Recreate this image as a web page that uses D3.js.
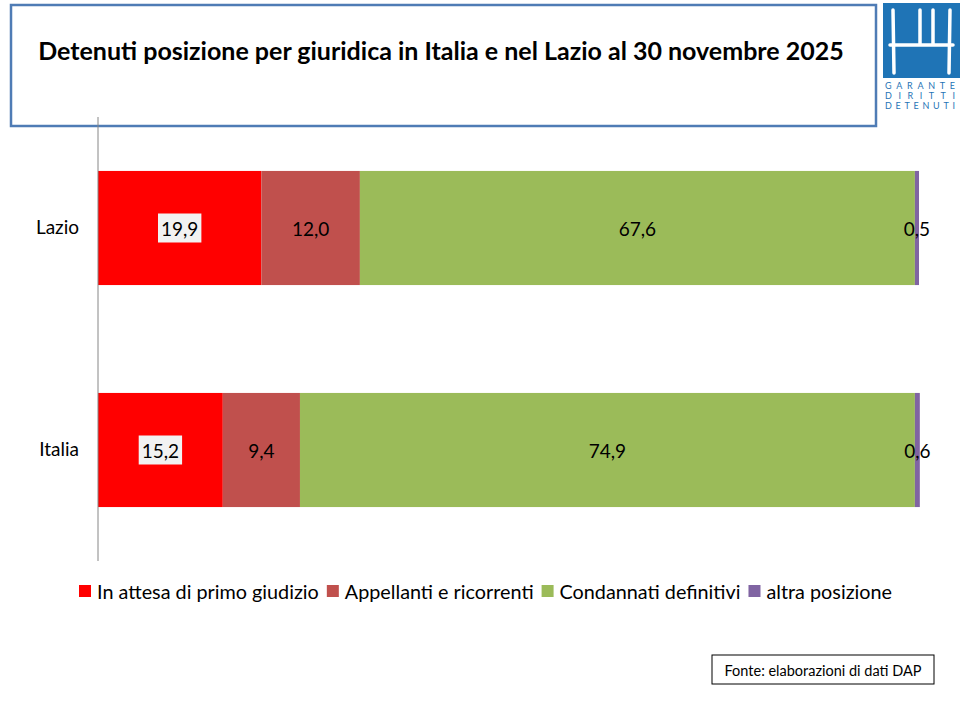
<!DOCTYPE html>
<html>
<head>
<meta charset="utf-8">
<script src="https://cdn.jsdelivr.net/npm/d3@7"></script>
<style>
  body { margin: 0; background: #fff; }
  text { font-family: Lato, "Open Sans", sans-serif; }
</style>
</head>
<body>
<div id="chart"></div>
<script>
// Dati
const regioni = ["Lazio", "Italia"];
const serie = ["In attesa di primo giudizio", "Appellanti e ricorrenti", "Condannati definitivi", "altra posizione"];
const lazio = [19.9, 12.0, 67.6, 0.5];
const italia = [15.2, 9.4, 74.9, 0.6];
const colori = ["#ff0000", "#c0504d", "#9bbb59", "#8064a2"];

const valori = { Lazio: lazio, Italia: italia };

const svg = d3.select("#chart").append("svg")
    .attr("width", 960)
    .attr("height", 720);

// Riquadro del titolo
svg.append("rect")
    .attr("x", 11).attr("y", 5)
    .attr("width", 865).attr("height", 121)
    .attr("fill", "none")
    .attr("stroke", "#4f7cb5")
    .attr("stroke-width", 2.5);

svg.append("text")
    .attr("x", 441).attr("y", 50)
    .attr("text-anchor", "middle")
    .attr("dominant-baseline", "central")
    .attr("font-size", 25)
    .attr("font-weight", "bold")
    .attr("fill", "#000")
    .text("Detenuti posizione per giuridica in Italia e nel Lazio al 30 novembre 2025");

// Logo (approssimato)
const logo = svg.append("g").attr("transform", "translate(883,3)");
logo.append("rect").attr("width", 77).attr("height", 75).attr("fill", "#1f74b6");
logo.append("path")
    .attr("d", "M10,7 L11,70 M37,7 L37,42 M50,7 L50,42 M67,7 L66,70 M7,42 L70,42")
    .attr("stroke", "#fff").attr("stroke-width", 3.5).attr("fill", "none")
    .attr("stroke-linecap", "round");
["GARANTE", "DIRITTI", "DETENUTI"].forEach((t, i) => {
    logo.append("text")
        .attr("x", 2).attr("y", 86 + i * 10)
        .attr("font-size", 9)
        .attr("fill", "#1f74b6")
        .attr("textLength", 70)
        .attr("lengthAdjust", "spacing")
        .text(t);
});

// Scale
const x = d3.scaleLinear().domain([0, 100]).range([98, 919]);
const y = d3.scaleBand().domain(regioni).range([117, 561])
    .paddingInner(0.486).paddingOuter(0.243);

// Dati impilati
const righe = regioni.map(r => {
    const o = { regione: r };
    serie.forEach((s, i) => o[s] = valori[r][i]);
    return o;
});
const stack = d3.stack().keys(serie)(righe);

const gruppi = svg.selectAll(".serie")
    .data(stack)
    .enter().append("g")
    .attr("class", "serie")
    .attr("fill", (d, i) => colori[i]);

gruppi.selectAll("rect")
    .data(d => d)
    .enter().append("rect")
    .attr("x", d => x(d[0]))
    .attr("y", d => y(d.data.regione))
    .attr("width", d => x(d[1]) - x(d[0]))
    .attr("height", y.bandwidth());

// Etichette dei valori
const fmt = v => d3.format(".1f")(v).replace(".", ",");
stack.forEach((s, i) => {
    s.forEach(d => {
        const cx = (x(d[0]) + x(d[1])) / 2;
        const cy = y(d.data.regione) + y.bandwidth() / 2;
        const g = svg.append("g");
        const t = g.append("text")
            .attr("x", cx).attr("y", cy)
            .attr("text-anchor", "middle")
            .attr("dominant-baseline", "central")
            .attr("font-size", 19)
            .attr("fill", "#000")
            .text(fmt(d[1] - d[0]));
        if (i === 0) {
            const b = t.node().getBBox();
            g.insert("rect", "text")
                .attr("x", b.x - 3).attr("y", cy - 14.5)
                .attr("width", b.width + 6).attr("height", 29)
                .attr("fill", "#f2f2f2");
        }
    });
});

// Asse verticale
svg.append("line")
    .attr("x1", 98).attr("x2", 98)
    .attr("y1", 117).attr("y2", 561)
    .attr("stroke", "#868686").attr("stroke-width", 1);

svg.selectAll(".cat")
    .data(regioni)
    .enter().append("text")
    .attr("class", "cat")
    .attr("x", 79)
    .attr("y", d => y(d) + y.bandwidth() / 2 - 2)
    .attr("text-anchor", "end")
    .attr("dominant-baseline", "central")
    .attr("font-size", 19)
    .text(d => d);

// Legenda
const leg = svg.append("g");
let lx = 79;
serie.forEach((s, i) => {
    leg.append("rect")
        .attr("x", lx).attr("y", 585)
        .attr("width", 12).attr("height", 12)
        .attr("fill", colori[i]);
    const t = leg.append("text")
        .attr("x", lx + 18).attr("y", 591)
        .attr("dominant-baseline", "central")
        .attr("font-size", 19.8)
        .text(s);
    lx += 18 + t.node().getComputedTextLength() + 8;
});

// Fonte
svg.append("rect")
    .attr("x", 712).attr("y", 655)
    .attr("width", 222).attr("height", 29)
    .attr("fill", "#fff").attr("stroke", "#000").attr("stroke-width", 1);
svg.append("text")
    .attr("x", 823).attr("y", 670)
    .attr("text-anchor", "middle")
    .attr("dominant-baseline", "central")
    .attr("font-size", 14.5)
    .text("Fonte: elaborazioni di dati DAP");
</script>
</body>
</html>
